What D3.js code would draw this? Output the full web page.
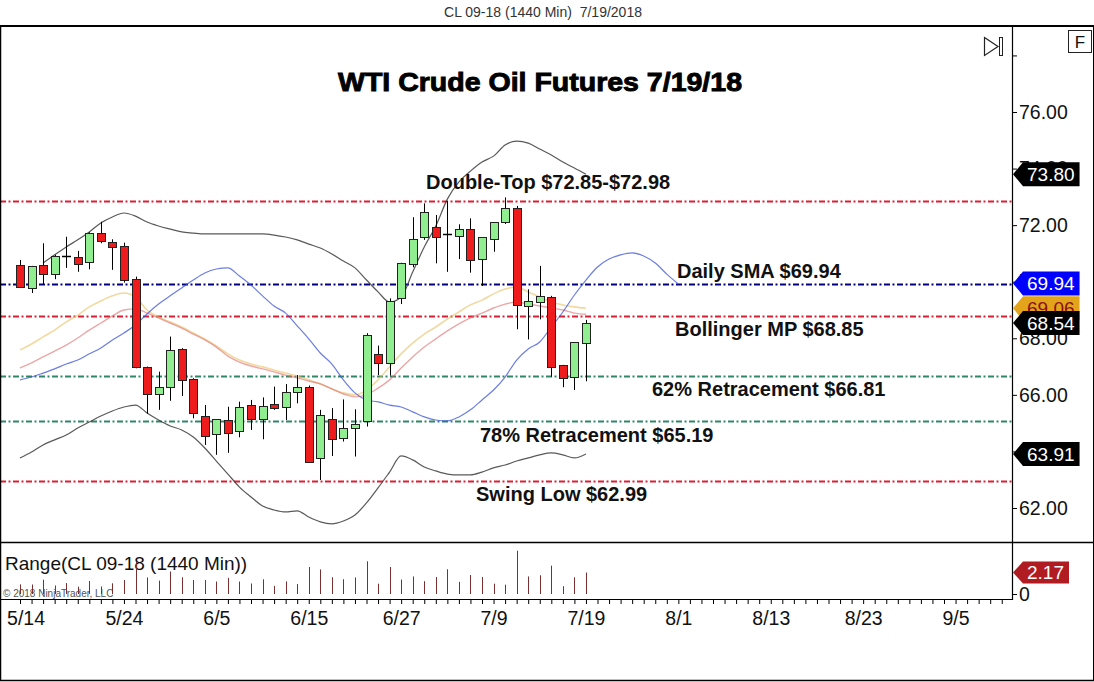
<!DOCTYPE html>
<html><head><meta charset="utf-8">
<script src="https://cdn.jsdelivr.net/npm/d3@7/dist/d3.min.js"></script>
<style>
html,body{margin:0;padding:0;background:#fff;}
svg{display:block;font-family:"Liberation Sans",Arial,sans-serif;}
</style></head><body>
<svg id="c" width="1094" height="682"></svg>
<script>
// ---------------- DATA ----------------
const dates = ["5/11","5/14","5/15","5/16","5/17","5/18","5/21","5/22","5/23","5/24",
 "5/25","5/28","5/29","5/30","5/31","6/1","6/4","6/5","6/6","6/7",
 "6/8","6/11","6/12","6/13","6/14","6/15","6/18","6/19","6/20","6/21",
 "6/22","6/25","6/26","6/27","6/28","6/29","7/2","7/3","7/4","7/5",
 "7/6","7/9","7/10","7/11","7/12","7/13","7/16","7/17","7/18","7/19"];
const futureDates = ["7/23","7/24","7/25","7/26","7/27","7/30","7/31","8/1","8/2","8/3",
 "8/6","8/7","8/8","8/9","8/10","8/13","8/14","8/15","8/16","8/17",
 "8/20","8/21","8/22","8/23","8/24","8/27","8/28","8/29","8/30","8/31",
 "9/4","9/5","9/6","9/7","9/10","9/11"];
const openP = [70.59,69.79,70.59,70.27,70.91,70.89,70.71,71.73,71.42,71.26,
 70.09,66.98,66.02,66.29,67.62,66.55,65.26,64.61,65.11,64.73,
 65.64,65.14,65.67,65.58,66.09,66.29,63.76,65.16,64.47,64.84,
 65.09,67.45,67.14,69.41,70.63,71.57,71.93,71.69,71.62,71.87,
 70.80,71.50,72.10,72.60,69.14,69.29,69.45,67.06,66.64,67.84];
const highP = [70.77,70.56,71.36,70.95,71.59,71.09,71.75,72.12,71.50,71.38,
 70.18,67.00,66.82,68.06,67.65,66.59,65.64,65.14,65.58,65.76,
 65.82,65.91,66.29,66.38,66.70,66.33,65.47,65.53,65.84,65.49,
 68.18,67.74,69.41,70.67,72.28,72.77,72.36,72.85,72.03,72.24,
 71.57,72.10,72.98,72.68,69.73,70.56,69.50,67.06,67.86,68.65];
const lowP = [69.80,69.60,69.92,70.09,70.49,70.35,70.44,71.36,70.42,69.97,
 66.94,65.33,65.47,65.79,65.96,65.17,64.23,63.88,63.95,64.50,
 64.76,64.43,65.47,65.11,65.70,63.60,62.99,63.84,64.35,63.82,
 64.88,66.70,66.68,69.21,70.51,71.48,70.65,70.35,70.80,70.32,
 69.85,71.06,72.04,68.32,67.96,68.67,66.64,66.27,66.17,66.48];
const closeP = [69.82,70.56,70.27,70.91,70.91,70.62,71.73,71.45,71.24,70.06,
 67.00,66.02,66.29,67.59,66.53,65.37,64.56,65.14,64.64,65.58,
 65.14,65.61,65.55,66.09,66.29,63.64,65.28,64.43,64.82,64.96,
 68.12,67.14,69.33,70.65,71.50,72.48,71.59,71.69,71.85,70.77,
 71.57,72.10,72.60,69.18,69.33,69.50,66.98,66.61,67.86,68.54];
const upperBand = [null,null,70.66,70.95,71.23,71.48,71.76,72.08,72.29,72.43,
 72.32,72.11,71.97,71.86,71.76,71.72,71.69,71.69,71.69,71.69,
 71.69,71.69,71.65,71.58,71.48,71.33,71.19,70.98,70.73,70.49,
 70.06,69.64,69.28,69.46,70.34,71.23,71.97,72.92,73.53,73.91,
 74.23,74.44,74.83,74.97,74.90,74.69,74.48,74.23,74.02,73.80];
const lowerBand = [63.77,63.98,64.23,64.41,64.58,64.83,65.04,65.25,65.43,65.57,
 65.64,65.36,65.11,64.90,64.76,64.51,64.12,63.66,63.20,62.74,
 62.39,62.07,61.93,61.86,61.90,61.68,61.51,61.44,61.54,61.75,
 62.18,62.71,63.27,63.84,63.70,63.45,63.31,63.20,63.17,63.17,
 63.27,63.42,63.52,63.66,63.77,63.88,63.95,63.88,63.77,63.91];
const middleBand = [66.95,67.13,67.34,67.55,67.76,68.01,68.29,68.54,68.79,69.00,
 69.04,68.89,68.72,68.54,68.36,68.15,67.94,67.69,67.37,67.16,
 67.02,66.92,66.81,66.70,66.60,66.49,66.39,66.21,66.03,65.93,
 66.00,66.24,66.53,66.95,67.34,67.69,67.98,68.26,68.51,68.72,
 68.89,69.07,69.21,69.28,69.21,69.14,69.07,69.00,68.89,68.85];
const emaLine = [67.59,67.80,68.05,68.29,68.58,68.82,69.11,69.32,69.50,69.60,
 69.46,69.00,68.75,68.58,68.40,68.19,67.98,67.73,67.45,67.23,
 67.09,66.99,66.88,66.77,66.67,66.53,66.39,66.21,66.07,66.00,
 66.17,66.53,66.99,67.45,67.83,68.15,68.40,68.68,68.93,69.18,
 69.35,69.57,69.74,69.81,69.64,69.46,69.28,69.18,69.11,69.06];
const dailySma = [66.53,66.63,66.77,66.92,67.09,67.23,67.45,67.66,67.94,68.19,
 68.47,68.86,69.21,69.50,69.78,70.06,70.31,70.45,70.49,70.20,
 69.88,69.50,69.14,68.89,68.44,67.98,67.48,67.09,66.53,66.07,
 65.82,65.75,65.64,65.57,65.40,65.22,65.11,65.08,65.22,65.47,
 65.82,66.17,66.63,67.23,67.62,67.87,68.40,68.93,69.53,70.06,
 70.52,70.80,70.95,71.02,70.91,70.66,70.27,69.92];
const levelValues = [72.85, 69.93, 68.79, 66.67, 65.09, 62.97];
const levelLabels = ["Double-Top $72.85-$72.98","Daily SMA $69.94","Bollinger MP $68.85",
 "62% Retracement $66.81","78% Retracement $65.19","Swing Low $62.99"];
const levelKinds = ["red","navy","red","green","green","red"];
const priceTicks = [62,64,66,68,70,72,74,76,78];
const dateTicks = ["5/14","5/24","6/5","6/15","6/27","7/9","7/19","8/1","8/13","8/23","9/5"];
const markerValues = [73.80, 69.94, 69.06, 68.54, 63.91];
const markerKinds = ["black","blue","gold","black","black"];
const rangeMarker = 2.17;
const titleText = "WTI Crude Oil Futures 7/19/18";
const headerText = "CL 09-18 (1440 Min)  7/19/2018";
const rangeTitle = "Range(CL 09-18 (1440 Min))";

// ---------------- STYLE / LAYOUT ----------------
const levelColor = {red:"#dc1e32", navy:"#000080", green:"#2f8766"};
const markerFill = {black:"#000", blue:"#0000ff", gold:"#e3a41c"};
const markerText = {black:"#fff", blue:"#fff", gold:"#8b1010"};
const labelPos = [ {x:426,dy:-12}, {x:677,dy:-6}, {x:675,dy:20}, {x:652,dy:20}, {x:480,dy:21}, {x:476,dy:20} ];

const svg = d3.select("#c");
const AX = 1012, TOP = 26, PBOT = 542, XB = 599;
const allDates = dates.concat(futureDates);
const x = d3.scalePoint().domain(allDates).range([20, 20 + 11.55*(allDates.length-1)]);
const y = d3.scaleLinear().domain([62,76]).range([508,112]);
const yr = d3.scaleLinear().domain([0, rangeMarker]).range([594, 572.5]);
const cx = d => Math.round(x(d)) + 0.5;

svg.append("rect").attr("width",1094).attr("height",682).attr("fill","#fff");
svg.append("defs").append("clipPath").attr("id","pc").append("rect")
  .attr("x",0).attr("y",TOP).attr("width",AX).attr("height",PBOT-TOP);

// header
svg.append("text").attr("x",543).attr("y",17).attr("text-anchor","middle")
  .attr("font-size",14).attr("fill","#333").style("white-space","pre").text(headerText);

// title
svg.append("text").attr("x",338).attr("y",91)
  .attr("font-size",26).attr("font-weight","bold").attr("fill","#000")
  .attr("stroke","#000").attr("stroke-width",0.9)
  .attr("textLength",404).attr("lengthAdjust","spacingAndGlyphs").text(titleText);

const plot = svg.append("g").attr("clip-path","url(#pc)");

// level lines
plot.selectAll("line.lvl").data(levelValues).join("line").attr("class","lvl")
  .attr("x1",0).attr("x2",AX).attr("y1",d=>Math.round(y(d))+0.5).attr("y2",d=>Math.round(y(d))+0.5)
  .attr("stroke",(d,i)=>levelColor[levelKinds[i]]).attr("stroke-width",2)
  .attr("stroke-dasharray","6,2.5,2,2.5");

// indicator lines
const idxLine = arr => d3.line().defined(d=>d!==null).x((d,i)=>x(allDates[i])).y(d=>y(d)).curve(d3.curveMonotoneX)(arr);
plot.append("path").attr("d",idxLine(emaLine)).attr("fill","none").attr("stroke","#e8c060").attr("stroke-opacity",0.6).attr("stroke-width",1.6);
plot.append("path").attr("d",idxLine(middleBand)).attr("fill","none").attr("stroke","#e06a6a").attr("stroke-opacity",0.6).attr("stroke-width",1.4);
plot.append("path").attr("d",idxLine(dailySma)).attr("fill","none").attr("stroke","#3a52d8").attr("stroke-opacity",0.75).attr("stroke-width",1.2);
plot.append("path").attr("d",idxLine(upperBand)).attr("fill","none").attr("stroke","#3c3c3c").attr("stroke-opacity",0.85).attr("stroke-width",1.2);
plot.append("path").attr("d",idxLine(lowerBand)).attr("fill","none").attr("stroke","#3c3c3c").attr("stroke-opacity",0.85).attr("stroke-width",1.2);

// candles
const cg = plot.append("g");
dates.forEach((d,i)=>{
  const xc = cx(d);
  cg.append("line").attr("x1",xc).attr("x2",xc).attr("y1",y(highP[i])).attr("y2",y(lowP[i]))
    .attr("stroke","#000").attr("stroke-width",1);
  const o=openP[i], c=closeP[i];
  if (o===c) {
    cg.append("line").attr("x1",xc-4.5).attr("x2",xc+4.5).attr("y1",Math.round(y(o))+0.5).attr("y2",Math.round(y(o))+0.5)
      .attr("stroke","#000").attr("stroke-width",1.5);
  } else {
    const top = Math.round(y(Math.max(o,c)))+0.5, bot = Math.round(y(Math.min(o,c)))+0.5;
    cg.append("rect").attr("x",xc-4).attr("width",8).attr("y",top).attr("height",Math.max(1,bot-top))
      .attr("fill", c>o ? "#90ee90" : "#ee1c1c").attr("stroke","#222").attr("stroke-width",1);
  }
});

// level labels
svg.selectAll("text.lbl").data(levelLabels).join("text").attr("class","lbl")
  .attr("x",(d,i)=>labelPos[i].x).attr("y",(d,i)=>y(levelValues[i])+labelPos[i].dy)
  .attr("font-size",20).attr("font-weight","bold").attr("fill","#111").text(d=>d);

// range panel
svg.append("text").attr("x",5).attr("y",570).attr("font-size",19).attr("fill","#111").text(rangeTitle);
svg.append("text").attr("x",3).attr("y",597).attr("font-size",10).attr("fill","#555").text("\u00A9 2018 NinjaTrader, LLC");
svg.append("g").selectAll("line").data(dates).join("line")
  .attr("x1",d=>cx(d)).attr("x2",d=>cx(d))
  .attr("y1",yr(0)).attr("y2",(d,i)=>yr(highP[i]-lowP[i]))
  .attr("stroke","#7a3030").attr("stroke-width",1);

// frame
const fr = svg.append("g").attr("fill","none").attr("stroke","#000");
fr.append("line").attr("x1",0).attr("x2",1094).attr("y1",TOP).attr("y2",TOP).attr("stroke-width",2);
fr.append("line").attr("x1",0.5).attr("x2",0.5).attr("y1",TOP).attr("y2",681).attr("stroke-width",1.5);
fr.append("line").attr("x1",0).attr("x2",1094).attr("y1",PBOT+0.5).attr("y2",PBOT+0.5).attr("stroke-width",1.5);
fr.append("line").attr("x1",0).attr("x2",AX).attr("y1",XB+0.5).attr("y2",XB+0.5).attr("stroke-width",1);
fr.append("line").attr("x1",AX+0.5).attr("x2",AX+0.5).attr("y1",TOP).attr("y2",XB+1).attr("stroke-width",1.2);
fr.append("line").attr("x1",0).attr("x2",1094).attr("y1",680.5).attr("y2",680.5).attr("stroke-width",1.5);
fr.append("line").attr("x1",1093.5).attr("x2",1093.5).attr("y1",TOP).attr("y2",681).attr("stroke-width",1);

// price axis
const ya = d3.axisRight(y).tickValues(priceTicks).tickSize(5).tickPadding(2)
  .tickFormat(d => d===78 ? "" : d3.format(".2f")(d));
const yg = svg.append("g").attr("transform",`translate(${AX},0)`).call(ya);
yg.select(".domain").remove();
yg.selectAll("text").attr("font-size",19.5).attr("font-family","Liberation Sans, Arial, sans-serif").attr("fill","#111");
yg.selectAll("line").attr("stroke","#000");

// range axis (0)
const ra = d3.axisRight(yr).tickValues([0]).tickSize(5).tickPadding(2).tickFormat(d3.format("d"));
const rg = svg.append("g").attr("transform",`translate(${AX},0)`).call(ra);
rg.select(".domain").remove();
rg.selectAll("text").attr("font-size",19.5).attr("font-family","Liberation Sans, Arial, sans-serif").attr("fill","#111");

// date axis
const xa = d3.axisBottom(x).tickValues(allDates).tickSize(5).tickPadding(7)
  .tickFormat(d => dateTicks.includes(d) ? d : "");
const xg = svg.append("g").attr("transform",`translate(0,${XB})`).call(xa);
xg.select(".domain").remove();
xg.selectAll("line").attr("stroke","#000");
xg.selectAll("text").attr("font-size",19.5).attr("font-family","Liberation Sans, Arial, sans-serif").attr("fill","#111")
  .attr("dx", d => d===dateTicks[0] ? -6 : 0);

// markers
function marker(val, yy, fill, tcol, h) {
  const g = svg.append("g");
  const t = g.append("text").attr("x",AX+15).attr("y",yy).attr("dy","0.36em")
    .attr("font-size",19).attr("fill",tcol).text(val);
  const w = t.node().getComputedTextLength();
  const r = AX+15+w+5, hh = h/2;
  g.insert("path","text").attr("d",`M${AX+1},${yy} L${AX+11},${yy-hh} L${r},${yy-hh} L${r},${yy+hh} L${AX+11},${yy+hh} Z`)
    .attr("fill",fill);
}
markerValues.forEach((v,i)=>marker(d3.format(".2f")(v), y(v), markerFill[markerKinds[i]], markerText[markerKinds[i]], 24));
marker(d3.format(".2f")(rangeMarker), yr(rangeMarker), "#b01c22", "#fff", 22);

// icons
svg.append("path").attr("d","M984.5,37.5 L998,46.5 L984.5,55.5 Z").attr("fill","none").attr("stroke","#222").attr("stroke-width",1.2);
svg.append("rect").attr("x",999.5).attr("y",37.5).attr("width",3).attr("height",18).attr("fill","none").attr("stroke","#222").attr("stroke-width",1);
svg.append("rect").attr("x",1068.5).attr("y",30.5).attr("width",23).attr("height",22).attr("fill","#fff").attr("stroke","#222").attr("stroke-width",1);
svg.append("text").attr("x",1080).attr("y",48).attr("text-anchor","middle").attr("font-size",17).attr("fill","#111").text("F");
</script>
</body></html>
